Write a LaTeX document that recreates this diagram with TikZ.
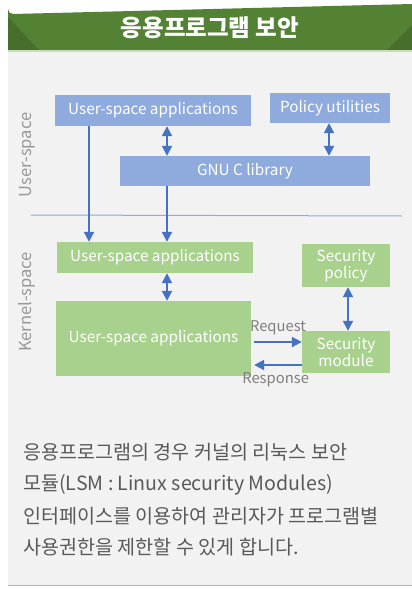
\documentclass[tikz,border=0pt]{standalone}
\usepackage{fontspec}
\setmainfont{Noto Sans CJK KR}
\usetikzlibrary{arrows.meta}
\definecolor{hdr}{HTML}{548235}
\definecolor{hdrdark}{HTML}{476E2D}
\definecolor{hdrline}{HTML}{C9DCB8}
\definecolor{panel}{HTML}{F2F2F2}
\definecolor{ubox}{HTML}{8FAADC}
\definecolor{kbox}{HTML}{A9D18E}
\definecolor{arr}{HTML}{4472C4}
\definecolor{lbl}{HTML}{7F7F7F}
\definecolor{body}{HTML}{595959}
\tikzset{
  ustyle/.style={fill=ubox, draw=none, text=white, font=\fontsize{15.3}{17}\selectfont, inner sep=0pt},
  kstyle/.style={fill=kbox, draw=none, text=white, font=\fontsize{15.3}{19}\selectfont, inner sep=0pt, align=center},
  conn/.style={draw=arr, line width=2pt, -{Triangle[length=10pt,width=10pt]}},
  dconn/.style={draw=arr, line width=2pt, {Triangle[length=10pt,width=10pt]}-{Triangle[length=10pt,width=10pt]}},
  sidelbl/.style={text=lbl!80, font=\fontsize{16.5}{18}\selectfont, rotate=90},
  arrlbl/.style={text=lbl, font=\fontsize{14.8}{16}\selectfont},
  bodytxt/.style={text=body, font=\fontsize{19.6}{32}\selectfont, anchor=west, inner sep=0pt}
}
\begin{document}
\begin{tikzpicture}[x=1pt,y=-1pt]
\useasboundingbox (0,0) rectangle (412,589);
\fill[white] (0,0) rectangle (412,589);
% panel
\fill[panel] (8,50) rectangle (412,585);
\draw[gray!60, line width=0.8pt] (8,585.5) -- (412,585.5);
% header
\fill[hdr] (8,50) -- (8,9) arc[start angle=180,end angle=90,radius=5] -- (412,4) -- (412,50) -- cycle;
\fill[hdrdark] (8,17) -- (39,50) -- (8,50) -- cycle;
\fill[hdrdark] (412,25) -- (387,50) -- (412,50) -- cycle;
\draw[hdrline, line width=1.2pt] (8,51) -- (412,51);
\node[text=white, font=\fontsize{23.5}{26}\selectfont\bfseries] (title) at (210,28) {응용프로그램 보안};

% user space
\node[ustyle, minimum width=196pt, minimum height=31pt] (ua) at (153,110.5) {User-space applications};
\node[ustyle, minimum width=120pt, minimum height=30pt] (pu) at (330,108) {Policy utilities};
\node[ustyle, minimum width=250pt, minimum height=30pt] (glibc) at (245,171) {GNU C library};
\node[sidelbl] (uslbl) at (27,155) {User-space};

% separator
\coordinate (sepL) at (31,215);
\coordinate (sepR) at (402,216);
\draw[ubox, line width=1pt] (sepL) -- (sepR);

% kernel space
\node[kstyle, minimum width=196pt, minimum height=31pt] (kua) at (155,257.5) {User-space applications};
\node[kstyle, minimum width=88pt, minimum height=43pt] (spol) at (346,265.5) {Security\\[-2pt]policy};
\node[kstyle, minimum width=195pt, minimum height=75pt] (kapp) at (153.5,338.5) {User-space applications};
\node[kstyle, minimum width=88pt, minimum height=42pt] (smod) at (346,352) {Security\\[-2pt]module};
\node[sidelbl] (kslbl) at (27,302) {Kernel-space};

% connectors
\draw[dconn] ([xshift=14pt]ua.south) -- ([xshift=-78pt]glibc.north);
\draw[dconn] ([xshift=-1pt]pu.south) -- ([xshift=84pt]glibc.north);
\draw[conn] (ua.south -| 89,0) -- (kua.north -| 89,0);
\draw[conn] ([xshift=-78pt]glibc.south) -- (kua.north -| 167,0);
\draw[dconn] (kua.south -| 167,0) -- (kapp.north -| 167,0);
\draw[dconn] ([xshift=2pt]spol.south) -- ([xshift=2pt]smod.north);
\draw[conn] ([xshift=3pt]kapp.east |- 0,342) -- (smod.west |- 0,342) node[pos=0.5, above=3pt, arrlbl] (req) {Request};
\draw[conn] (smod.west |- 0,365) -- ([xshift=3pt]kapp.east |- 0,365) node[pos=0.55, below=3pt, arrlbl] (resp) {Response};

% body text
\node[bodytxt] (l1) at (23,452) {응용프로그램의 경우 커널의 리눅스 보안};
\node[bodytxt] (l2) at (23,485) {모듈(LSM : Linux security Modules)};
\node[bodytxt] (l3) at (23,516) {인터페이스를 이용하여 관리자가 프로그램별};
\node[bodytxt] (l4) at (23,547) {사용권한을 제한할 수 있게 합니다.};
\end{tikzpicture}
\end{document}
